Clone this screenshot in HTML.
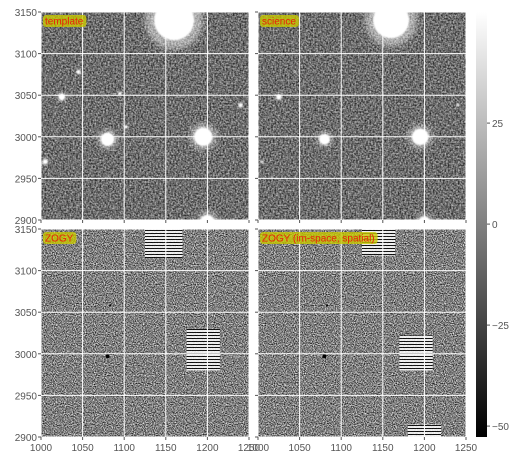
<!DOCTYPE html>
<html><head><meta charset="utf-8"><style>
body{margin:0;background:#fff;}
svg{display:block;font-family:"Liberation Sans","DejaVu Sans",sans-serif;}
</style></head><body>
<svg id="c" width="521" height="462" viewBox="0 0 521 462">
<defs>
<filter id="nTop" x="0" y="0" width="1" height="1" color-interpolation-filters="sRGB">
<feTurbulence type="fractalNoise" baseFrequency="0.6" numOctaves="2" seed="3"/>
<feColorMatrix type="matrix" values="1.0 0 0 0 -0.07  1.0 0 0 0 -0.07  1.0 0 0 0 -0.07  0 0 0 0 1"/>
</filter>
<filter id="nBot" x="0" y="0" width="1" height="1" color-interpolation-filters="sRGB">
<feTurbulence type="fractalNoise" baseFrequency="0.9" numOctaves="1" seed="7"/>
<feColorMatrix type="matrix" values="1.7 0 0 0 -0.35  1.7 0 0 0 -0.35  1.7 0 0 0 -0.35  0 0 0 0 1"/>
</filter>
<filter id="blur"><feGaussianBlur stdDeviation="3"/></filter>
<filter id="blur2"><feGaussianBlur stdDeviation="0.8"/></filter>
<pattern id="stripes" width="4" height="3" patternUnits="userSpaceOnUse">
<rect width="4" height="2" fill="#fff"/><rect y="2" width="4" height="1" fill="#000"/>
</pattern>
<linearGradient id="cbar" x1="0" y1="0" x2="0" y2="1">
<stop offset="0" stop-color="#fff"/><stop offset="1" stop-color="#000"/>
</linearGradient>
</defs>
</svg>
<script>
const xTicks=[1000,1050,1100,1150,1200,1250];
const yTicks=[2900,2950,3000,3050,3100,3150];
const cbTicks=[-50,-25,0,25];
const panelTitles=["template","science","ZOGY","ZOGY (im-space, spatial)"];
const starX=[1160,1195,1080,1025,1200,1045,1095,1102,1240,1005];
const starY=[3140,3000,2997,3048,2897,3078,3052,3012,3038,2970];
const starR=[24,11,8,4,9,2.5,2,2,2.5,3];
const sciScale=[0.9,0.9,0.8,0.8,0.8,0.5,0.5,0.5,0.6,0.5];
const zogyBox=[[1125,1170,3115,3150],[1175,1215,2980,3030]];
const zogy2Box=[[1125,1165,3118,3150],[1170,1210,2980,3022],[1180,1220,2900,2915]];
const dipX=[1080,1083];
const dipY=[2997,3058];
const cbMin=-52.7,cbMax=52.5;

const svg=document.getElementById('c');
const NS='http://www.w3.org/2000/svg';
function mk(t,a,p){const e=document.createElementNS(NS,t);for(const k in a)e.setAttribute(k,a[k]);(p||svg).appendChild(e);return e;}
const panels=[{x:41,y:12},{x:258,y:12},{x:41,y:229},{x:258,y:229}];
const W=208,H=208;
function sx(p,v){return p.x+(v-1000)/250*W;}
function sy(p,v){return p.y+H-(v-2900)/250*H;}
panels.forEach((p,i)=>{
  const g=mk('g',{});
  
  
  const cp=mk('clipPath',{id:'cp'+i},svg);mk('rect',{x:p.x,y:p.y,width:W,height:H},cp);
  const inner=mk('g',{'clip-path':'url(#cp'+i+')'},g);
  mk('rect',{x:p.x,y:p.y,width:W,height:H,fill:'#777',filter:i<2?'url(#nTop)':'url(#nBot)'},inner);
  if(i<2){
    starX.forEach((sxv,k)=>{
      const r=starR[k]*(i==1?sciScale[k]:1)/250*W;
      mk('circle',{cx:sx(p,sxv),cy:sy(p,starY[k]),r:r*1.45,fill:'#fff',opacity:0.45,filter:'url(#blur)'},inner);
      const s=mk('circle',{cx:sx(p,sxv),cy:sy(p,starY[k]),r:r,fill:'#fff',filter:'url(#blur2)'},inner);
      
      
    });
  } else {
    const boxes=i==2?zogyBox:zogy2Box;
    boxes.forEach(b=>{
      const r=mk('rect',{x:sx(p,b[0]),y:sy(p,b[3]),width:sx(p,b[1])-sx(p,b[0]),height:sy(p,b[2])-sy(p,b[3]),fill:'url(#stripes)',opacity:0.85},inner);
      
      
    });
    dipX.forEach((d,k)=>{mk('circle',{cx:sx(p,d),cy:sy(p,dipY[k]),r:k?1:2,fill:'#000'},inner);});
  }
  xTicks.forEach(t=>{mk('line',{x1:sx(p,t),x2:sx(p,t),y1:p.y,y2:p.y+H,stroke:'#fff','stroke-width':1},inner);});
  yTicks.forEach(t=>{mk('line',{x1:p.x,x2:p.x+W,y1:sy(p,t),y2:sy(p,t),stroke:'#fff','stroke-width':1},inner);});
  const tt=mk('text',{x:p.x+4,y:p.y+12.5,'font-size':10,fill:'#e8200a'},g);
  tt.textContent=panelTitles[i];
  
  
  const tw=tt.getComputedTextLength()+5;
  const bg=mk('rect',{x:p.x+2,y:p.y+3,width:tw,height:12,rx:3,fill:'#c8c800',opacity:0.8},g);
  g.insertBefore(bg,tt);
  xTicks.forEach(t=>{mk('line',{x1:sx(p,t),x2:sx(p,t),y1:p.y+H,y2:p.y+H+3,stroke:'#555'},g);});
  yTicks.forEach(t=>{mk('line',{x1:p.x-3,x2:p.x,y1:sy(p,t),y2:sy(p,t),stroke:'#555'},g);});
  if(i%2==0){yTicks.forEach(t=>{const e=mk('text',{x:p.x-4,y:sy(p,t)+4,'font-size':10,fill:'#555','text-anchor':'end'},g);e.textContent=t;
    });}
  if(i>=2){xTicks.forEach(t=>{const e=mk('text',{x:sx(p,t),y:p.y+H+14,'font-size':10,fill:'#555','text-anchor':'middle'},g);e.textContent=t;
    });}
});
const cb=mk('g',{});


const cy0=12,cy1=437;
function cyv(v){return cy0+(cbMax-v)/(cbMax-cbMin)*(cy1-cy0);}
mk('rect',{x:476,y:cy0,width:11,height:cy1-cy0,fill:'url(#cbar)'},cb);
cbTicks.forEach(t=>{mk('line',{x1:487,x2:490,y1:cyv(t),y2:cyv(t),stroke:'#555'},cb);
  const e=mk('text',{x:492,y:cyv(t)+4,'font-size':10,fill:'#555'},cb);e.textContent=t<0?'\u2212'+(-t):t;
  });
</script>
</body></html>
